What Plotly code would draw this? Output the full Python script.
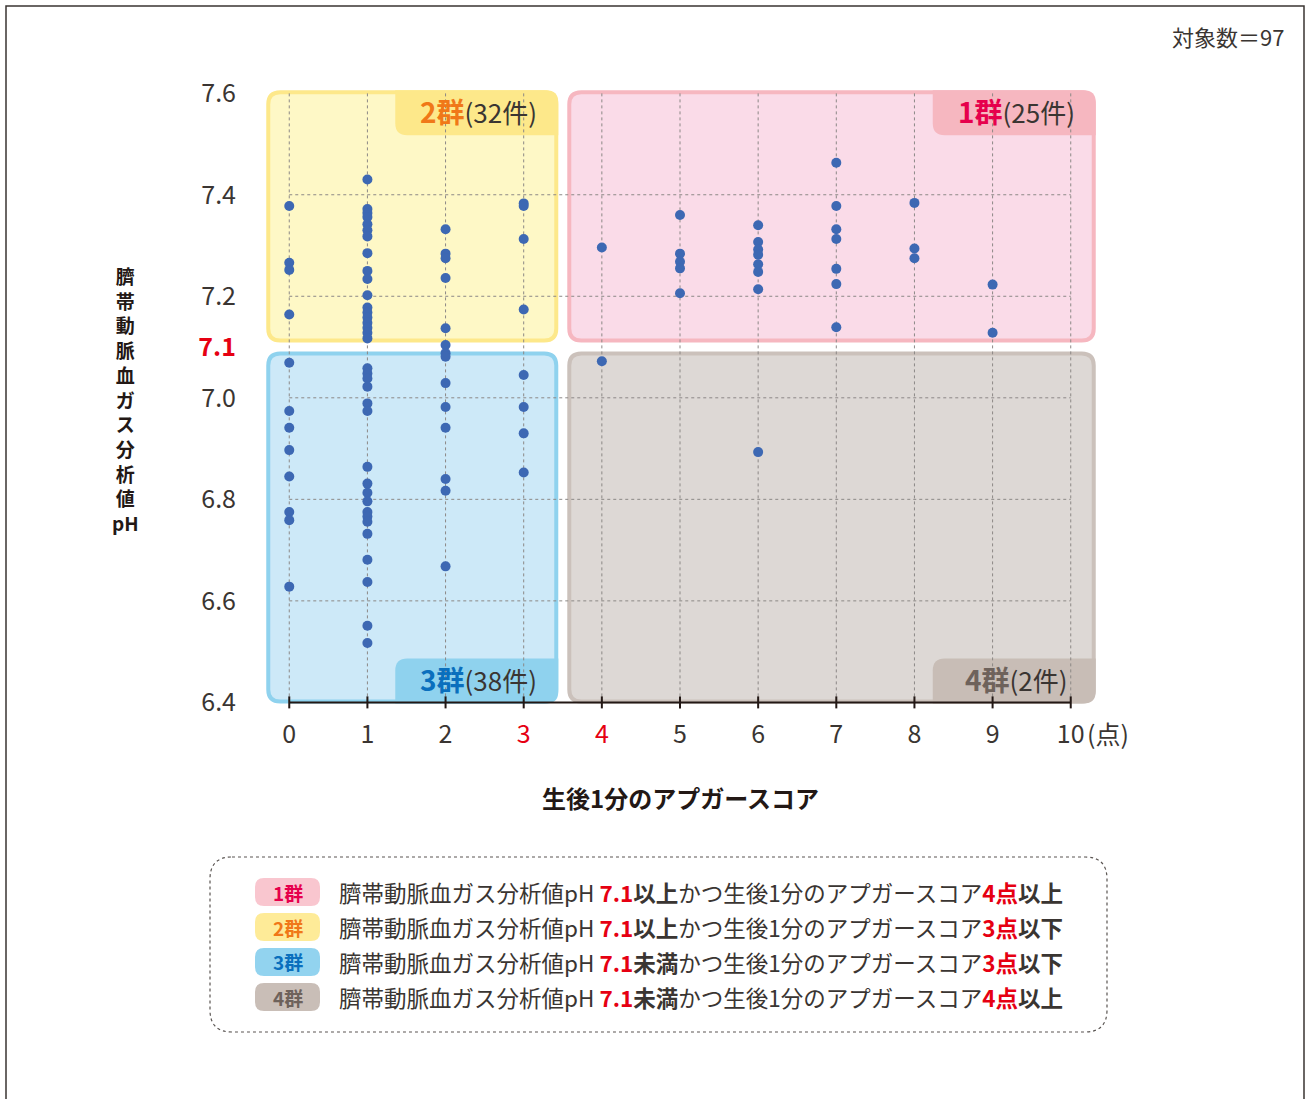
import plotly.graph_objects as go

# ---- data: Apgar score at 1 min (x) and umbilical artery blood gas pH (y) ----
g1_score = [4,
            5, 5, 5, 5, 5,
            6, 6, 6, 6, 6, 6, 6,
            7, 7, 7, 7, 7, 7, 7,
            8, 8, 8,
            9, 9]
g1_ph = [7.296,
         7.360, 7.284, 7.268, 7.255, 7.206,
         7.340, 7.307, 7.292, 7.282, 7.263, 7.248, 7.214,
         7.463, 7.378, 7.332, 7.313, 7.254, 7.224, 7.139,
         7.384, 7.294, 7.275,
         7.223, 7.128]

g2_score = [0] * 4 + [1] * 18 + [2] * 6 + [3] * 4
g2_ph = [7.378, 7.266, 7.252, 7.164,
         7.430, 7.372, 7.364, 7.356, 7.342, 7.330, 7.318, 7.285, 7.250, 7.234,
         7.202, 7.178, 7.168, 7.158, 7.148, 7.138, 7.128, 7.117,
         7.332, 7.284, 7.275, 7.236, 7.137, 7.104,
         7.383, 7.378, 7.313, 7.174]

g3_score = [0] * 8 + [1] * 18 + [2] * 8 + [3] * 4
g3_ph = [7.069, 6.974, 6.941, 6.897, 6.845, 6.775, 6.759, 6.628,
         7.058, 7.048, 7.038, 7.022, 6.989, 6.974, 6.864, 6.831, 6.813,
         6.796, 6.775, 6.766, 6.756, 6.732, 6.681, 6.637, 6.551, 6.517,
         7.088, 7.081, 7.029, 6.982, 6.941, 6.840, 6.817, 6.668,
         7.045, 6.982, 6.930, 6.853]

g4_score = [4, 6]
g4_ph = [7.072, 6.893]

group_names = ["1群", "2群", "3群", "4群"]
group_counts = [25, 32, 38, 2]
total_n = 97

x_ticks = list(range(0, 11))
x_ticklabels = ["0", "1", "2", "3", "4", "5", "6", "7", "8", "9", "10"]
y_ticks = [6.4, 6.6, 6.8, 7.0, 7.1, 7.2, 7.4, 7.6]
y_ticklabels = ["6.4", "6.6", "6.8", "7.0", "7.1", "7.2", "7.4", "7.6"]
y_grid = [6.6, 6.8, 7.0, 7.2, 7.4]

PH_CUT = 7.1
SCORE_CUT = 3.5
X_MIN, X_MAX = 0, 10
Y_MIN, Y_MAX = 6.4, 7.6

# ---- layout geometry ----
W, H = 1311, 1099
ML, MR, MT, MB = 258, 209, 78, 389
XR = [-0.4, 10.4]
YR = [6.385, 7.63]
PW = W - ML - MR
PH = H - MT - MB

FONT = "Noto Sans CJK JP, Noto Sans, sans-serif"
TXT = "#3a3532"
RED = "#e60012"
DOT = "#3d68b3"


def px_x(v):
    return ML + (v - XR[0]) / (XR[1] - XR[0]) * PW


def px_y(v):
    return MT + (YR[1] - v) / (YR[1] - YR[0]) * PH


def dx(p):
    return XR[0] + (p - ML) / PW * (XR[1] - XR[0])


def dy(p):
    return YR[1] - (p - MT) / PH * (YR[1] - YR[0])


def paper_x(p):
    return (p - ML) / PW


def paper_y(p):
    return (MT + PH - p) / PH


def rounded(x0, y0, x1, y1, radii, fx, fy):
    tl, tr, br, bl = radii
    pts = [
        ("M", [(x0 + tl, y0)]),
        ("L", [(x1 - tr, y0)]),
        ("Q", [(x1, y0), (x1, y0 + tr)]),
        ("L", [(x1, y1 - br)]),
        ("Q", [(x1, y1), (x1 - br, y1)]),
        ("L", [(x0 + bl, y1)]),
        ("Q", [(x0, y1), (x0, y1 - bl)]),
        ("L", [(x0, y0 + tl)]),
        ("Q", [(x0, y0), (x0 + tl, y0)]),
    ]
    out = []
    for cmd, ps in pts:
        out.append(cmd + " " + " ".join(f"{fx(a):.5f},{fy(b):.5f}" for a, b in ps))
    return " ".join(out) + " Z"


shapes = []
annotations = []

# quadrant boxes (pixel geometry derived from the cut values)
left_px = px_x(X_MIN) - 23
right_px = px_x(X_MAX) + 25
top_px = px_y(Y_MAX) - 3
bottom_px = px_y(Y_MIN) + 1
cut_x_px = px_x(SCORE_CUT)
cut_y_px = px_y(PH_CUT)
GAP = 4.5
BW = 4

boxes = {
    "2群": dict(x0=left_px, x1=cut_x_px - GAP, y0=top_px, y1=cut_y_px - GAP,
               fill="#fef8c6", line="#fde88a", tabc="#fde88a", tab="top",
               label="#f07818"),
    "1群": dict(x0=cut_x_px + GAP, x1=right_px, y0=top_px, y1=cut_y_px - GAP,
               fill="#fadbe8", line="#f6b7c0", tabc="#f6b7c0", tab="top",
               label="#e6004c"),
    "3群": dict(x0=left_px, x1=cut_x_px - GAP, y0=cut_y_px + GAP, y1=bottom_px,
               fill="#cde9f8", line="#8fd2ee", tabc="#8fd2ee", tab="bottom",
               label="#0a6fbd"),
    "4群": dict(x0=cut_x_px + GAP, x1=right_px, y0=cut_y_px + GAP, y1=bottom_px,
               fill="#ddd8d5", line="#cbc1bb", tabc="#c8bdb6", tab="bottom",
               label="#6e625b"),
}
R = 12
TAB_W, TAB_H = 163, 45
for name, b in boxes.items():
    h = BW / 2
    shapes.append(dict(type="path", xref="x", yref="y", layer="below",
                       path=rounded(b["x0"] + h, b["y0"] + h, b["x1"] - h, b["y1"] - h,
                                    (R, R, R, R), dx, dy),
                       fillcolor=b["fill"], line=dict(color=b["line"], width=BW)))
    # label tab
    tx1 = b["x1"]
    tx0 = tx1 - TAB_W
    if b["tab"] == "top":
        ty0, ty1 = b["y0"], b["y0"] + TAB_H
        radii = (0, R, 0, R)
    else:
        ty0, ty1 = b["y1"] - TAB_H, b["y1"]
        radii = (R, 0, R, 0)
    shapes.append(dict(type="path", xref="x", yref="y", layer="below",
                       path=rounded(tx0, ty0, tx1, ty1, radii, dx, dy),
                       fillcolor=b["tabc"], line=dict(width=0)))
    idx = group_names.index(name)
    annotations.append(dict(
        x=dx((tx0 + tx1) / 2 + 2), y=dy((ty0 + ty1) / 2 - 2), xref="x", yref="y",
        showarrow=False, xanchor="center", yanchor="middle",
        text=(f"<span style='color:{b['label']};font-size:28px'><b>{name}</b></span>"
              f"({group_counts[idx]}件)"),
        font=dict(family=FONT, size=26, color=TXT)))

# dashed grid
GRID = dict(color="#8c8886", width=1, dash="3px,3px")
for xv in x_ticks:
    shapes.append(dict(type="line", xref="x", yref="y", layer="below",
                       x0=xv, x1=xv, y0=Y_MIN, y1=Y_MAX, line=GRID))
for yv in y_grid:
    shapes.append(dict(type="line", xref="x", yref="y", layer="below",
                       x0=X_MIN, x1=X_MAX, y0=yv, y1=yv, line=GRID))

# x axis line with crossing ticks
AX = "#231815"
shapes.append(dict(type="line", xref="x", yref="y", layer="above",
                   x0=X_MIN, x1=X_MAX, y0=Y_MIN, y1=Y_MIN, line=dict(color=AX, width=2)))
for xv in x_ticks:
    shapes.append(dict(type="line", xref="x", yref="y", layer="above",
                       x0=xv, x1=xv, y0=dy(px_y(Y_MIN) - 6), y1=dy(px_y(Y_MIN) + 6),
                       line=dict(color=AX, width=2)))

# outer frame
shapes.append(dict(type="rect", xref="paper", yref="paper",
                   x0=paper_x(6), x1=paper_x(1304), y0=paper_y(1120), y1=paper_y(6),
                   line=dict(color="#3a3532", width=1.5), fillcolor="rgba(0,0,0,0)"))

# legend box
shapes.append(dict(type="path", xref="paper", yref="paper",
                   path=rounded(210, 857, 1107, 1032, (22, 22, 22, 22), paper_x, paper_y),
                   line=dict(color="#5a5552", width=1.2, dash="3px,3px"),
                   fillcolor="rgba(0,0,0,0)"))

legend_rows = [
    ("1群", "#f9c6cf", "#e6004c", "以上", "4点", "以上"),
    ("2群", "#feeb98", "#f07818", "以上", "3点", "以下"),
    ("3群", "#92d3ef", "#0a6fbd", "未満", "3点", "以下"),
    ("4群", "#c9beb7", "#6e625b", "未満", "4点", "以上"),
]
for i, (name, bg, fg, cond1, pts, cond2) in enumerate(legend_rows):
    cy = 892 + i * 35
    shapes.append(dict(type="path", xref="paper", yref="paper",
                       path=rounded(255, cy - 14, 320, cy + 14, (9, 9, 9, 9), paper_x, paper_y),
                       fillcolor=bg, line=dict(width=0)))
    annotations.append(dict(x=paper_x(287.5), y=paper_y(cy), xref="paper", yref="paper",
                            showarrow=False, xanchor="center", yanchor="middle",
                            text=f"<b>{name}</b>",
                            font=dict(family=FONT, size=19, color=fg)))
    annotations.append(dict(
        x=paper_x(337), y=paper_y(cy), xref="paper", yref="paper",
        showarrow=False, xanchor="left", yanchor="middle",
        text=(f"臍帯動脈血ガス分析値pH <span style='color:{RED}'><b>7.1</b></span>"
              f"<b>{cond1}</b>かつ生後1分のアプガースコア"
              f"<span style='color:{RED}'><b>{pts}</b></span><b>{cond2}</b>"),
        font=dict(family=FONT, size=22.5, color=TXT)))

# vertical y-axis title (one character per line)
title_chars = ["臍", "帯", "動", "脈", "血", "ガ", "ス", "分", "析", "値", "pH"]
annotations.append(dict(x=paper_x(125), y=paper_y(399),
                        xref="paper", yref="paper", showarrow=False,
                        xanchor="center", yanchor="middle",
                        text="<b>" + "<br>".join(title_chars) + "</b>",
                        font=dict(family=FONT, size=19, color="#231815")))

# x-axis title
annotations.append(dict(x=paper_x(680), y=paper_y(797), xref="paper", yref="paper",
                        showarrow=False, xanchor="center", yanchor="middle",
                        text="<b>生後1分のアプガースコア</b>",
                        font=dict(family=FONT, size=24, color="#231815")))

# unit after last x tick
annotations.append(dict(x=paper_x(1085), y=paper_y(733), xref="paper", yref="paper",
                        showarrow=False, xanchor="left", yanchor="middle",
                        text="(点)", font=dict(family=FONT, size=25, color=TXT)))

# sample size
annotations.append(dict(x=paper_x(1286), y=paper_y(36), xref="paper", yref="paper",
                        showarrow=False, xanchor="right", yanchor="middle",
                        text=f"対象数＝{total_n}", font=dict(family=FONT, size=22, color=TXT)))

fig = go.Figure()
for xs, ys in [(g1_score, g1_ph), (g2_score, g2_ph), (g3_score, g3_ph), (g4_score, g4_ph)]:
    fig.add_trace(go.Scatter(x=xs, y=ys, mode="markers", showlegend=False,
                             marker=dict(color=DOT, size=10, line=dict(width=0)),
                             hoverinfo="skip", cliponaxis=False))

x_text = [f"<span style='color:{RED}'>{t}</span>" if t in ("3", "4") else t
          for t in x_ticklabels]
y_text = [f"<span style='color:{RED}'><b>{t}</b></span>" if t == "7.1" else t
          for t in y_ticklabels]

fig.update_layout(
    width=W, height=H,
    margin=dict(l=ML, r=MR, t=MT, b=MB, pad=0),
    paper_bgcolor="white", plot_bgcolor="rgba(0,0,0,0)",
    font=dict(family=FONT, color=TXT),
    shapes=shapes, annotations=annotations,
    xaxis=dict(range=XR, tickmode="array", tickvals=x_ticks, ticktext=x_text,
               showgrid=False, zeroline=False, showline=False,
               ticks="outside", ticklen=2, tickcolor="rgba(0,0,0,0)",
               tickfont=dict(family=FONT, size=25, color=TXT)),
    yaxis=dict(range=YR, tickmode="array", tickvals=y_ticks, ticktext=y_text,
               showgrid=False, zeroline=False, showline=False,
               ticks="outside", ticklen=16, tickcolor="rgba(0,0,0,0)",
               tickfont=dict(family=FONT, size=25, color=TXT)),
)

fig.write_html("out.html")
